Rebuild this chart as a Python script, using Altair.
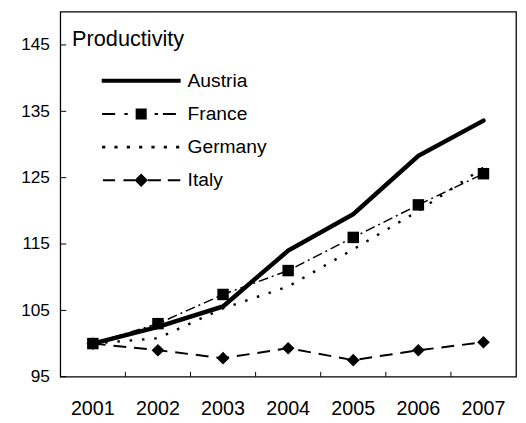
import altair as alt
import pandas as pd

years = ["2001", "2002", "2003", "2004", "2005", "2006", "2007"]
countries = ["Austria", "France", "Germany", "Italy"]
austria = [100, 102.5, 105.6, 114.0, 119.5, 128.3, 133.6]
france = [100, 103.0, 107.4, 111.0, 116.0, 120.9, 125.6]
germany = [100, 100.8, 105.3, 108.6, 114.2, 120.0, 126.5]
italy = [100, 99.0, 97.8, 99.3, 97.5, 99.0, 100.2]
y_ticks = [95, 105, 115, 125, 135, 145]

series = {"Austria": austria, "France": france, "Germany": germany, "Italy": italy}
rows = [{"year": y, "country": c, "value": v}
        for c in countries for y, v in zip(years, series[c])]
df = pd.DataFrame(rows)
ytick_df = pd.DataFrame({"v": y_ticks})
xtick_df = pd.DataFrame({"year": years[1:]})

FONT = "Liberation Sans"
W, H = 462, 370


def rect(x0, x1, h):
    return f"M{x0},{-h}H{x1}V{h}H{x0}Z"


p_austria = rect(-1, 1, 0.05)
p_france = (rect(-0.99, -0.66, 0.025) + rect(-0.425, -0.34, 0.025)
            + rect(-0.14, 0.14, 0.14) + rect(0.34, 0.425, 0.025)
            + rect(0.55, 0.88, 0.025))
p_germany = "".join(rect(c - 0.04, c + 0.04, 0.035)
                    for c in [-0.95, -0.6375, -0.325, -0.0125, 0.3, 0.6125, 0.925])
p_italy = (rect(-0.97, -0.66, 0.025) + rect(-0.45, -0.16, 0.025)
           + "M-0.17,0L0,-0.17L0.17,0L0,0.17Z"
           + rect(0.17, 0.5, 0.025) + rect(0.675, 0.99, 0.025))

no_axis_lines = dict(grid=False, ticks=False, tickSize=0, domain=False)

xenc = alt.X("year:O", sort=years,
             scale=alt.Scale(type="band", paddingInner=0, paddingOuter=0),
             axis=alt.Axis(title=None, labelAngle=0, labelFontSize=20,
                           labelFont=FONT, labelColor="black", labelPadding=22,
                           **no_axis_lines))
yenc = alt.Y("value:Q",
             scale=alt.Scale(domain=[95, 150], nice=False, zero=False),
             axis=alt.Axis(title=None, values=y_ticks, labelFontSize=17.5,
                           labelFont=FONT, labelColor="black", labelPadding=11,
                           **no_axis_lines))

base = alt.Chart(df).encode(x=xenc, y=yenc)

styles = {
    "Austria": dict(strokeWidth=4.5, strokeCap="round"),
    "France": dict(strokeWidth=1.5, strokeDash=[10, 4, 2, 4]),
    "Germany": dict(strokeWidth=2.5, strokeDash=[2.5, 10]),
    "Italy": dict(strokeWidth=2, strokeDash=[13, 8]),
}
lines = [base.transform_filter(alt.datum.country == c)
         .mark_line(color="black", **styles[c]) for c in countries]

squares = base.transform_filter(alt.datum.country == "France").mark_point(
    shape="square", size=135, filled=True, color="black", opacity=1)
diamonds = base.transform_filter(alt.datum.country == "Italy").mark_point(
    shape="diamond", size=165, filled=True, color="black", opacity=1)

legend_layer = base.transform_filter("false").mark_point(
    filled=True, color="black", opacity=1, strokeWidth=0).encode(
    shape=alt.Shape("country:N",
                    scale=alt.Scale(domain=countries,
                                    range=[p_austria, p_france, p_germany, p_italy]),
                    legend=alt.Legend(
                        title="Productivity", orient="none", legendX=12, legendY=18,
                        padding=0, titlePadding=20, rowPadding=13.6, clipHeight=20,
                        symbolSize=6400, symbolOffset=30, labelOffset=7,
                        symbolStrokeWidth=0, symbolFillColor="black",
                        labelFontSize=19.5, labelFont=FONT, labelColor="black",
                        titleFontSize=22, titleFont=FONT, titleFontWeight="normal",
                        titleColor="black", labelLimit=0, titleLimit=0)))

yticks = alt.Chart(ytick_df).mark_rule(color="black", strokeWidth=1).encode(
    y=alt.Y("v:Q", axis=alt.Axis(title=None, values=y_ticks, labelFontSize=17.5,
                                 labelFont=FONT, labelColor="black", labelPadding=11,
                                 **no_axis_lines)),
    x=alt.value(0), x2=alt.value(6))
xticks = alt.Chart(xtick_df).mark_rule(color="black", strokeWidth=1).encode(
    x=alt.X("year:O", bandPosition=0, sort=years,
            axis=alt.Axis(title=None, labelAngle=0, labelFontSize=20,
                          labelFont=FONT, labelColor="black", labelPadding=22,
                          **no_axis_lines)),
    y=alt.value(H), y2=alt.value(H - 5))

chart = alt.layer(*lines, squares, diamonds, legend_layer, yticks, xticks).properties(
    width=W, height=H,
    autosize=alt.AutoSizeParams(type="none"),
    padding={"left": 53, "top": 1, "right": 2, "bottom": 40},
    background="white",
).configure_view(stroke="black", strokeWidth=1.3)

chart.save("out.html", embed_options={"renderer": "svg", "actions": False})
